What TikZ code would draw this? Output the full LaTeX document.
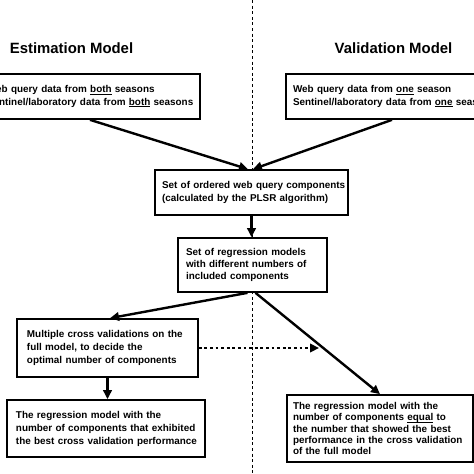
\documentclass[tikz,border=0pt]{standalone}
\usepackage{fontspec}
\setmainfont{Liberation Sans}
\usetikzlibrary{arrows.meta}
\newcommand{\uline}[1]{{\setbox0\hbox{#1}\rlap{\rule[-1.7pt]{\wd0}{0.75pt}}\box0}}
\tikzset{
  box/.style={draw, line width=1.7pt, fill=white, inner xsep=7pt, inner ysep=2pt, align=left,
    font=\bfseries\fontsize{9.9}{12.3}\selectfont},
  arr/.style={line width=2.4pt, -{Triangle[length=9pt,width=8.5pt]}},
  dotarr/.style={line width=2.6pt, dash pattern=on 2.8pt off 2.8pt, -{Triangle[length=9pt,width=8.5pt]}},
  title/.style={font=\bfseries\fontsize{14.9}{17}\selectfont},
  divider/.style={line width=0.9pt, dash pattern=on 3pt off 2.6pt}
}
\begin{document}
\begin{tikzpicture}[x=1pt,y=-1pt]
\useasboundingbox (0,0) rectangle (474,474);
\clip (0,0) rectangle (474,474);
\fill[white] (0,0) rectangle (474,474);
\coordinate (dtop) at (252,0);
\coordinate (dbot) at (252,474);
\draw[divider] (dtop) -- (dbot);

\node[title] (t1) at (71.5,48) {Estimation Model};
\node[title] (t2) at (393.5,48) {Validation Model};

\node[box, minimum width=220pt, text width=206pt, minimum height=45pt] (b1) at (90,96.5)
  {\mbox{Web query data from \uline{both} seasons}\\\mbox{Sentinel/laboratory data from \uline{both} seasons}};
\node[box, minimum width=209pt, text width=195pt, minimum height=45pt] (b2) at (390.5,96.5)
  {\mbox{Web query data from \uline{one} season}\\\mbox{Sentinel/laboratory data from \uline{one} season}};
\node[box, minimum width=193pt, text width=179pt, minimum height=45pt, font=\bfseries\fontsize{9.9}{13}\selectfont] (b3) at (251.5,192.5)
  {\mbox{Set of ordered web query components}\\\mbox{(calculated by the PLSR algorithm)}};
\node[box, minimum width=149pt, text width=133pt, inner xsep=8pt, minimum height=54pt] (b4) at (252.5,265)
  {\mbox{Set of regression models}\\\mbox{with different numbers of}\\\mbox{included components}};
\node[box, minimum width=181pt, text width=161pt, inner xsep=10pt, minimum height=58pt, font=\bfseries\fontsize{9.9}{13}\selectfont] (b5) at (107.5,348)
  {\mbox{Multiple cross validations on the}\\\mbox{full model, to decide the}\\\mbox{optimal number of components}};
\node[box, minimum width=186pt, text width=174pt, inner xsep=6pt, minimum height=67pt, font=\bfseries\fontsize{9.9}{11.2}\selectfont] (b6) at (380,428.5)
  {\mbox{The regression model with the}\\\mbox{number of components \uline{equal} to}\\\mbox{the number that showed the best}\\\mbox{performance in the cross validation}\\\mbox{of the full model}};
\node[box, minimum width=198pt, text width=180pt, inner xsep=9pt, minimum height=57pt, font=\bfseries\fontsize{9.9}{13}\selectfont] (b7) at (106,428.5)
  {\mbox{The regression model with the}\\\mbox{number of components that exhibited}\\\mbox{the best cross validation performance}};

\coordinate (dotend) at (319,348);

\draw[arr] (b1.south) -- ([xshift=-3.5pt]b3.north);
\draw[arr] ([xshift=1.5pt]b2.south) -- ([xshift=1.5pt]b3.north);
\draw[arr] (b3.south) -- (b3.south |- b4.north);
\draw[arr] ([xshift=-5pt]b4.south) -- ([xshift=2.5pt]b5.north);
\draw[arr] ([xshift=3pt]b4.south) -- (b6.north);
\draw[arr] (b5.south) -- (b5.south |- b7.north);
\draw[dotarr] (b5.east) -- (dotend);
\end{tikzpicture}
\end{document}
